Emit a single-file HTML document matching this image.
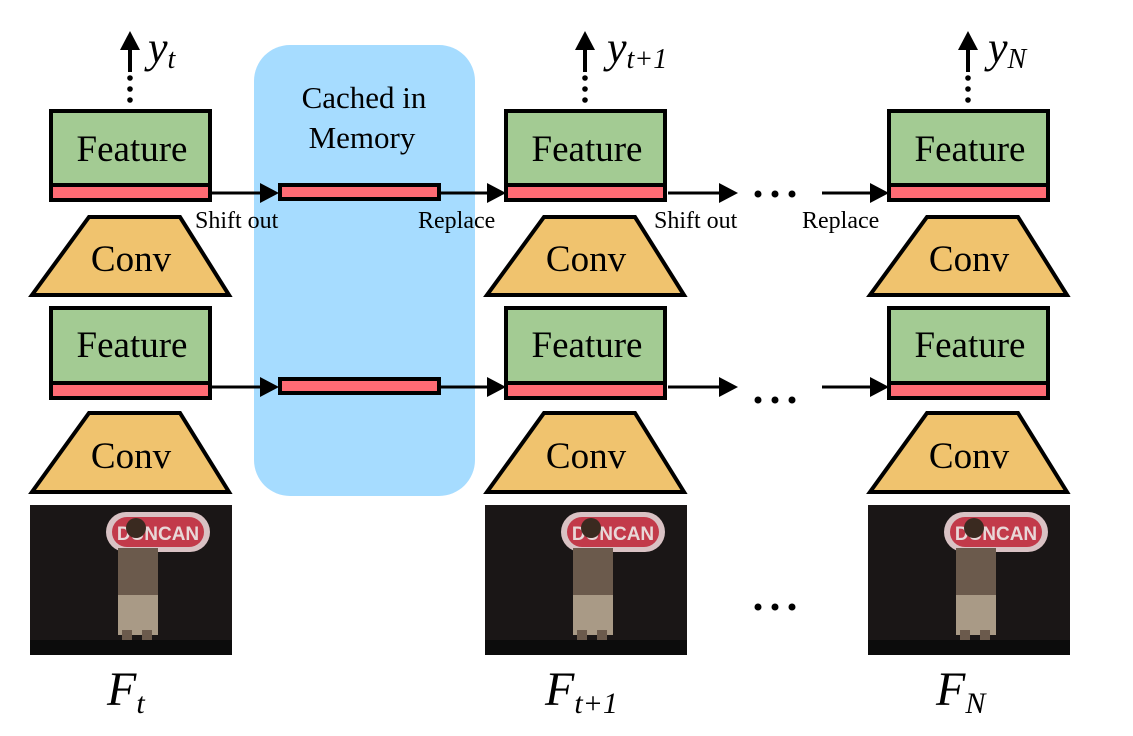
<!DOCTYPE html>
<html><head><style>body{margin:0;background:#fff}svg{display:block}</style></head>
<body>
<svg width="1133" height="736" viewBox="0 0 1133 736" xmlns="http://www.w3.org/2000/svg" font-family="'Liberation Serif', 'Times New Roman', serif">
<defs>
<g id="col">
  <circle cx="130" cy="78" r="2.8" fill="#000"/><circle cx="130" cy="89" r="2.8" fill="#000"/><circle cx="130" cy="100" r="2.8" fill="#000"/>
  <line x1="130" y1="72" x2="130" y2="45" stroke="#000" stroke-width="4"/>
  <polygon points="120,50 140,50 130,31" fill="#000"/>
  <rect x="51" y="111" width="159" height="76" fill="#a3cb93" stroke="#000" stroke-width="4"/>
  <rect x="51" y="185" width="159" height="15" fill="#ff6b74" stroke="#000" stroke-width="4"/>
  <text x="132" y="161" font-size="37" text-anchor="middle">Feature</text>
  <polygon points="89,217 180,217 229,295 32,295" fill="#f0c36e" stroke="#000" stroke-width="4"/>
  <text x="131" y="271" font-size="37" text-anchor="middle">Conv</text>
  <rect x="51" y="308" width="159" height="76" fill="#a3cb93" stroke="#000" stroke-width="4"/>
  <rect x="51" y="383" width="159" height="15" fill="#ff6b74" stroke="#000" stroke-width="4"/>
  <text x="132" y="357" font-size="37" text-anchor="middle">Feature</text>
  <polygon points="89,413 180,413 229,492 32,492" fill="#f0c36e" stroke="#000" stroke-width="4"/>
  <text x="131" y="468" font-size="37" text-anchor="middle">Conv</text>
  <rect x="30" y="505" width="202" height="150" fill="#1a1616"/>
  <rect x="106" y="512" width="104" height="40" rx="20" fill="#d9c2c4"/>
  <rect x="112" y="517" width="92" height="30" rx="15" fill="#c23a4a"/>
  <text x="158" y="540" font-size="19" font-weight="bold" fill="#e8d8d8" text-anchor="middle" font-family="'Liberation Sans',sans-serif">DUNCAN</text>
  <rect x="118" y="548" width="40" height="52" fill="#6b5a4c"/>
  <rect x="118" y="595" width="40" height="40" fill="#a99a86"/>
  <rect x="122" y="630" width="10" height="10" fill="#6b5a4c"/>
  <rect x="142" y="630" width="10" height="10" fill="#6b5a4c"/>
  <circle cx="136" cy="528" r="10" fill="#3a2a20"/>
  <rect x="30" y="640" width="202" height="15" fill="#0c0c0c"/>
</g>
</defs>
<rect x="254" y="45" width="221" height="451" rx="36" fill="#a6dcff"/>
<text x="364" y="108" font-size="31" text-anchor="middle">Cached in</text>
<text x="362" y="148" font-size="31" text-anchor="middle">Memory</text>
<use href="#col"/>
<use href="#col" transform="translate(455,0)"/>
<use href="#col" transform="translate(838,0)"/>
<rect x="280" y="185" width="159" height="14" fill="#ff6b74" stroke="#000" stroke-width="4"/>
<rect x="280" y="379" width="159" height="14" fill="#ff6b74" stroke="#000" stroke-width="4"/>
<g stroke="#000" stroke-width="3">
<line x1="212" y1="193" x2="262" y2="193"/><line x1="441" y1="193" x2="490" y2="193"/>
<line x1="668" y1="193" x2="722" y2="193"/><line x1="822" y1="193" x2="872" y2="193"/>
<line x1="212" y1="387" x2="262" y2="387"/><line x1="441" y1="387" x2="490" y2="387"/>
<line x1="668" y1="387" x2="722" y2="387"/><line x1="822" y1="387" x2="872" y2="387"/>
</g>
<g fill="#000">
<polygon points="260,183 260,203 279,193"/><polygon points="487,183 487,203 506,193"/>
<polygon points="719,183 719,203 738,193"/><polygon points="870,183 870,203 889,193"/>
<polygon points="260,377 260,397 279,387"/><polygon points="487,377 487,397 506,387"/>
<polygon points="719,377 719,397 738,387"/><polygon points="870,377 870,397 889,387"/>
<circle cx="758" cy="194" r="3.5"/><circle cx="775" cy="194" r="3.5"/><circle cx="792" cy="194" r="3.5"/>
<circle cx="758" cy="400" r="3.5"/><circle cx="775" cy="400" r="3.5"/><circle cx="792" cy="400" r="3.5"/>
<circle cx="758" cy="607" r="3.5"/><circle cx="775" cy="607" r="3.5"/><circle cx="792" cy="607" r="3.5"/>
</g>
<g font-size="24">
<text x="195" y="228">Shift out</text><text x="418" y="228">Replace</text>
<text x="654" y="228">Shift out</text><text x="802" y="228">Replace</text>
</g>
<g font-style="italic">
<text x="148" y="62" font-size="44">y<tspan font-size="28" dy="6">t</tspan></text>
<text x="607" y="62" font-size="44">y<tspan font-size="28" dy="6">t+1</tspan></text>
<text x="988" y="62" font-size="44">y<tspan font-size="28" dy="6">N</tspan></text>
<text x="107" y="705" font-size="48">F<tspan font-size="30" dy="8">t</tspan></text>
<text x="545" y="705" font-size="48">F<tspan font-size="30" dy="8">t+1</tspan></text>
<text x="936" y="705" font-size="48">F<tspan font-size="30" dy="8">N</tspan></text>
</g>
</svg>
</body></html>
